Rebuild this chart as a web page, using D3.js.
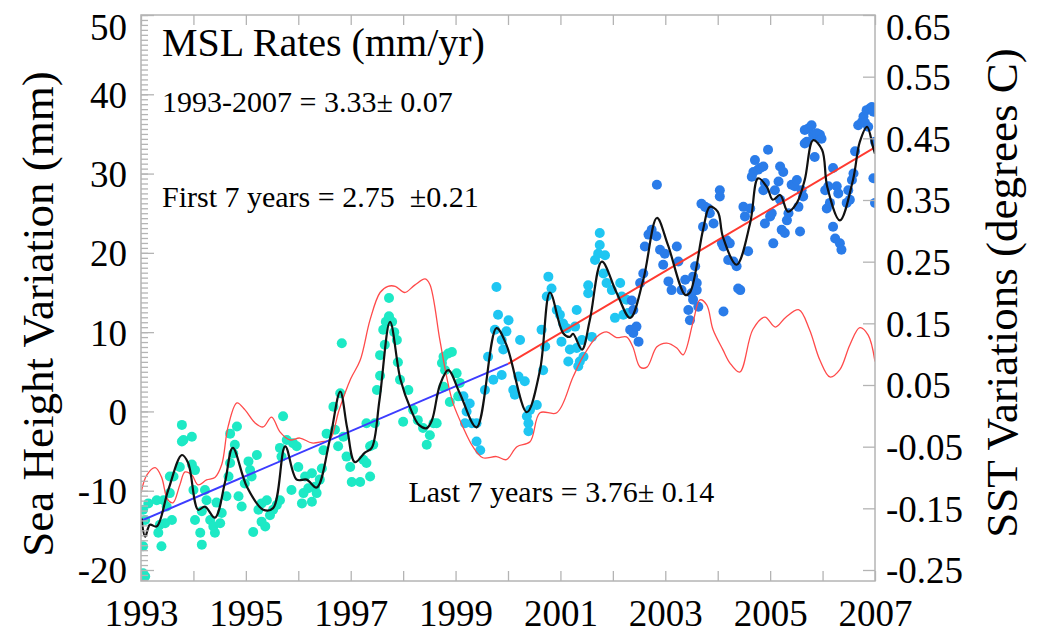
<!DOCTYPE html>
<html lang="en">
<head>
<meta charset="utf-8">
<title>MSL Rates</title>
<script src="https://d3js.org/d3.v7.min.js"></script>
<style>
  body { margin: 0; background: #fff; }
  svg text { font-family: "Liberation Serif", "Times New Roman", serif; fill: #000; white-space: pre; }
  .axis path { display: none; }
  .axis line { stroke: #b4b4b4; stroke-width: 1.3; }
  .axis text { font-size: 37px; }
</style>
</head>
<body>
<script>
// ---- data ----
var yearTicks = d3.range(1993, 2008);                 // one tick per year
var yearLabels = [1993, 1995, 1997, 1999, 2001, 2003, 2005, 2007];
var mmTicks = [-20, -10, 0, 10, 20, 30, 40, 50];
var sstTicks = [-0.25, -0.15, -0.05, 0.05, 0.15, 0.25, 0.35, 0.45, 0.55, 0.65];

// sea level points [year, mm] - first mission phase (green)
var ptsEarly = [
  [1993.04,-20.4],[1993.08,-20.8],[1993.04,-17.0],[1993.04,-12.4],[1993.14,-11.6],[1993.08,-13.7],
  [1993.30,-11.2],[1993.33,-15.3],[1993.39,-17.0],[1993.36,-14.3],[1993.46,-14.1],[1993.49,-12.0],
  [1993.43,-11.2],[1993.55,-10.3],[1993.59,-13.7],[1993.55,-8.2],[1993.62,-8.2],[1993.74,-7.0],
  [1993.78,-3.8],[1993.81,-3.6],[1993.78,-1.7],[1993.97,-3.2],[1993.97,-6.7],[1994.03,-7.4],
  [1994.00,-9.9],[1994.03,-13.7],[1994.13,-15.3],[1994.16,-16.8],[1994.16,-12.6],[1994.22,-9.9],
  [1994.25,-11.2],[1994.32,-13.7],[1994.38,-14.5],[1994.41,-15.3],[1994.44,-11.5],[1994.51,-14.1],
  [1994.54,-12.8],[1994.63,-10.7],[1994.67,-8.2],[1994.70,-6.5],[1994.70,-2.8],[1994.83,-1.9],
  [1994.79,-4.2],[1994.76,-5.3],[1994.86,-10.7],[1994.92,-12.0],[1994.98,-9.1],[1995.05,-6.3],
  [1995.08,-7.4],[1995.11,-8.2],[1995.14,-15.2],[1995.21,-5.5],[1995.24,-12.4],[1995.30,-11.6],
  [1995.30,-13.9],[1995.37,-14.5],[1995.40,-11.2],[1995.46,-13.1],[1995.52,-12.4],[1995.59,-11.8],
  [1995.65,-11.2],[1995.65,-4.6],[1995.68,-5.7],[1995.71,-0.6],[1995.78,-3.6],[1995.87,-9.9],
  [1995.90,-4.0],[1995.97,-4.4],[1996.00,-7.0],[1996.07,-11.6],[1996.10,-10.3],[1996.13,-8.2],
  [1996.19,-9.7],[1996.26,-7.8],[1996.26,-11.4],[1996.32,-9.5],[1996.35,-10.3],[1996.41,-8.6],
  [1996.45,-7.2],[1996.48,-4.9],[1996.54,-2.8],[1996.67,0.6],[1996.80,2.3],[1996.83,8.6],
  [1996.70,-2.3],[1996.76,-4.4],[1996.86,-3.2],[1996.92,-5.7],[1996.99,-7.0],[1997.02,-8.9],
  [1997.18,-8.9],[1997.37,-8.2],[1997.24,-6.1],[1997.30,-6.5],[1997.37,-4.4],[1997.43,-4.2],
  [1997.46,-1.5],[1997.30,-1.5],[1997.50,2.7],[1997.56,4.5],[1997.62,10.3],[1997.67,11.3],
  [1997.73,14.3],[1997.73,12.0],[1997.79,11.3],[1997.83,10.0],[1997.65,8.4],[1997.56,7.1],
  [1997.88,9.0],[1997.90,6.2],[1997.94,4.0],[1998.00,-1.3],[1998.10,2.7],[1998.19,0.2],
  [1998.28,-1.1],[1998.38,-2.1],[1998.45,-4.2],[1998.51,-3.0],[1998.58,-1.5],[1998.64,-1.5],
  [1998.74,6.1],[1998.77,3.1],[1998.80,5.2],[1998.86,7.3],[1998.77,6.9],[1998.89,1.2],
  [1998.93,7.5],[1999.02,4.8],[1999.05,1.9],[1999.08,3.6]
];
// second phase (cyan)
var ptsMid = [
  [1999.15,1.9],[1999.21,0.0],[1999.27,1.0],[1999.31,-1.5],[1999.40,-1.5],[1999.18,-1.5],
  [1999.40,-3.8],[1999.47,-4.9],[1999.56,2.7],[1999.62,6.9],[1999.72,4.0],[1999.75,10.3],
  [1999.78,15.7],[1999.81,12.2],[1999.88,9.0],[1999.91,7.8],[1999.97,10.1],[2000.01,11.5],
  [1999.88,4.6],[2000.10,2.7],[2000.13,2.1],[2000.20,4.4],[2000.23,9.0],[2000.32,3.8],
  [2000.36,-0.6],[2000.39,-1.5],[2000.39,-2.5],[2000.42,0.2],[2000.55,0.8],[2000.64,10.3],
  [2000.71,8.2],[2000.67,5.2],[2000.74,14.5],[2000.77,17.0],[2000.83,15.5],[2000.93,12.8],
  [2000.99,12.2],[2001.05,11.1],[2001.02,8.8],[2001.12,10.5],[2001.18,7.8],[2001.15,6.3],
  [2001.28,10.7],[2001.31,12.8],[2001.31,8.0],[2001.41,9.0],[2001.37,6.3],[2001.34,5.7],
  [2001.44,6.9],[2001.53,14.9],[2001.53,15.9],[2001.60,9.4],[2001.66,19.1],[2001.72,19.9],
  [2001.75,21.0],[2001.75,22.5],[2001.85,19.7],[2001.82,17.4],[2001.88,16.2],[2001.98,15.3],
  [2002.04,11.8],[2002.14,16.2],[2002.17,14.5],[2002.26,14.1],[2002.20,12.2],[2002.29,12.4]
];
// third phase (blue)
var ptsLate = [
  [2002.39,12.8],[2002.36,14.0],[2002.33,10.3],[2002.39,9.9],[2002.45,10.7],[2002.49,8.8],
  [2002.52,16.2],[2002.58,17.4],[2002.61,20.8],[2002.68,22.3],[2002.74,22.9],[2002.83,22.1],
  [2002.84,28.6],[2002.90,20.4],[2002.99,19.9],[2002.96,18.5],[2003.06,16.4],[2003.12,15.3],
  [2003.22,20.8],[2003.25,18.9],[2003.31,15.3],[2003.38,16.6],[2003.44,12.8],[2003.47,11.5],
  [2003.53,14.1],[2003.60,15.3],[2003.50,14.9],[2003.53,17.0],[2003.57,18.3],[2003.60,16.2],
  [2003.63,13.2],[2003.72,23.3],[2003.76,25.8],[2003.69,26.2],[2003.82,25.6],[2003.85,25.0],
  [2003.92,23.7],[2004.04,27.9],[2004.04,27.1],[2004.08,21.2],[2004.11,20.8],[2004.17,21.6],
  [2004.23,21.2],[2004.20,19.1],[2004.30,18.9],[2004.36,18.3],[2004.43,15.3],[2004.39,15.5],
  [2004.11,12.6],[2004.49,25.8],[2004.52,24.6],[2004.58,20.2],[2004.62,25.6],[2004.65,29.6],
  [2004.68,30.2],[2004.71,31.7],[2004.77,30.5],[2004.81,30.7],[2004.87,30.9],[2004.87,27.9],
  [2004.90,28.8],[2004.96,33.0],[2005.00,24.6],[2005.03,25.0],[2004.90,23.7],[2005.06,21.2],
  [2005.09,27.9],[2005.16,29.0],[2005.19,30.9],[2005.25,30.2],[2005.19,26.7],[2005.22,22.9],
  [2005.28,22.5],[2005.32,24.1],[2005.35,25.0],[2005.41,28.6],[2005.47,28.4],[2005.51,29.2],
  [2005.54,25.8],[2005.57,22.7],[2005.60,27.9],[2005.63,27.1],[2005.66,35.5],[2005.70,34.0],
  [2005.73,35.7],[2005.79,36.1],[2005.82,34.9],[2005.85,34.7],[2005.89,35.1],[2005.95,34.9],
  [2005.98,34.4],[2005.85,32.1],[2005.66,33.8],[2006.05,27.9],[2006.08,25.6],[2006.11,28.4],
  [2006.14,26.3],[2006.20,30.7],[2006.27,28.4],[2006.30,27.5],[2006.20,23.3],[2006.24,21.8],
  [2006.33,21.2],[2006.36,20.4],[2006.46,26.3],[2006.49,27.9],[2006.52,26.7],[2006.56,29.2],
  [2006.59,30.0],[2006.62,32.8],[2006.68,36.1],[2006.75,36.5],[2006.78,37.2],[2006.84,38.0],
  [2006.90,38.2],[2006.94,38.4],[2006.97,37.8],[2007.00,34.0],[2006.97,29.4],[2007.00,26.3],
  [2006.81,36.4],[2006.87,35.9]
];

// smoothed sea level [year, mm]
var smoothMsl = [
  [1993.01,-13.5],[1993.08,-15.8],[1993.17,-14.3],[1993.30,-14.5],[1993.52,-9.9],[1993.78,-5.5],
  [1993.90,-6.5],[1994.09,-12.4],[1994.22,-12.0],[1994.41,-13.4],[1994.60,-9.0],[1994.75,-4.6],
  [1995.02,-9.5],[1995.33,-12.4],[1995.52,-12.2],[1995.75,-4.4],[1995.97,-8.6],[1996.16,-8.6],
  [1996.35,-9.6],[1996.60,-3.6],[1996.80,2.5],[1996.93,-2.0],[1997.08,-6.4],[1997.27,-5.2],
  [1997.40,-4.6],[1997.55,1.5],[1997.75,11.3],[1997.95,4.0],[1998.15,0.2],[1998.30,-1.7],
  [1998.45,-2.1],[1998.55,-1.1],[1998.70,3.3],[1998.86,5.2],[1999.08,2.3],[1999.40,-2.0],
  [1999.78,10.5],[1999.97,8.4],[2000.36,-0.1],[2000.61,5.2],[2000.80,15.0],[2001.05,9.9],
  [2001.18,9.4],[2001.24,9.8],[2001.41,7.8],[2001.56,11.5],[2001.79,18.9],[2002.07,15.0],
  [2002.33,11.8],[2002.58,16.6],[2002.84,24.4],[2003.05,21.0],[2003.38,14.7],[2003.47,15.0],
  [2003.72,22.9],[2003.85,25.8],[2004.00,25.2],[2004.10,22.0],[2004.36,18.5],[2004.62,23.8],
  [2004.77,29.4],[2004.94,28.3],[2005.05,26.7],[2005.19,27.3],[2005.34,25.2],[2005.51,26.3],
  [2005.66,29.2],[2005.82,34.2],[2005.99,33.0],[2006.09,28.3],[2006.33,24.1],[2006.58,29.2],
  [2006.71,34.0],[2006.85,35.9],[2006.96,33.4],[2007.00,32.5]
];

// sea surface temperature [year, deg C] (right axis)
var sstSeries = [
  [1993.00,-0.125],[1993.11,-0.096],[1993.27,-0.084],[1993.39,-0.099],[1993.51,-0.136],[1993.61,-0.141],
  [1993.74,-0.112],[1993.84,-0.091],[1993.97,-0.096],[1994.09,-0.112],[1994.25,-0.104],[1994.41,-0.100],
  [1994.54,-0.079],[1994.66,-0.018],[1994.83,0.021],[1994.98,0.010],[1995.17,-0.011],[1995.33,-0.018],
  [1995.49,-0.002],[1995.65,-0.026],[1995.84,-0.039],[1996.03,-0.036],[1996.26,-0.044],[1996.45,-0.042],
  [1996.60,-0.039],[1996.78,0.010],[1997.00,0.060],[1997.18,0.090],[1997.37,0.156],[1997.56,0.200],
  [1997.71,0.210],[1997.85,0.210],[1998.03,0.200],[1998.22,0.212],[1998.42,0.222],[1998.51,0.213],
  [1998.70,0.123],[1998.83,0.063],[1998.95,0.021],[1999.14,-0.018],[1999.33,-0.050],[1999.52,-0.068],
  [1999.78,-0.066],[1999.97,-0.071],[2000.17,-0.050],[2000.42,-0.042],[2000.61,0.005],[2000.93,0.005],
  [2001.24,0.063],[2001.43,0.096],[2001.69,0.128],[2001.88,0.136],[2002.07,0.127],[2002.26,0.128],
  [2002.38,0.112],[2002.52,0.079],[2002.65,0.079],[2002.84,0.112],[2003.03,0.118],[2003.22,0.110],
  [2003.34,0.099],[2003.53,0.152],[2003.66,0.188],[2003.79,0.180],[2003.91,0.140],[2004.10,0.107],
  [2004.23,0.086],[2004.42,0.071],[2004.67,0.140],[2004.90,0.160],[2005.10,0.144],[2005.30,0.160],
  [2005.55,0.172],[2005.75,0.140],[2005.95,0.090],[2006.14,0.063],[2006.33,0.075],[2006.52,0.115],
  [2006.71,0.143],[2006.87,0.131],[2007.00,0.088]
];

// linear fits [year, mm]
var fitFirst = [[1993.0, -13.8], [2000.0, 6.0]];
var fitLast = [[2000.0, 6.0], [2007.0, 33.3]];

var notes = [
  {text: "MSL Rates (mm/yr)", x: 1993.4, y: 44.8, size: 40},
  {text: "1993-2007 = 3.33\u00b1 0.07", x: 1993.4, y: 37.8, size: 30},
  {text: "First 7 years = 2.75  \u00b10.21", x: 1993.4, y: 25.8, size: 30},
  {text: "Last 7 years = 3.76\u00b1 0.14", x: 1998.1, y: -11.4, size: 30}
];

// ---- layout ----
var W = 1040, H = 635;
var padL = 141, padR = 875, padT = 15, padB = 581;

var x = d3.scaleLinear().domain([1993, 2007]).range([padL, padR]);
var yL = d3.scaleLinear().domain([-20, 50]).range([570, padT]);
var yR = d3.scaleLinear().domain([-0.25, 0.65]).range([570, padT]);

// plain hyphen for negatives, like the original
function hy(f) { return function(d) { return f(d).replace("\u2212", "-"); }; }

var svg = d3.select("body").append("svg")
  .attr("width", W)
  .attr("height", H);

svg.append("clipPath").attr("id", "plotclip")
  .append("rect")
  .attr("x", padL).attr("y", padT)
  .attr("width", padR - padL).attr("height", padB - padT);

var plot = svg.append("g").attr("clip-path", "url(#plotclip)");

// dots
var groups = [
  {pts: ptsEarly, color: "#1de9c5"},
  {pts: ptsMid, color: "#1fc6f2"},
  {pts: ptsLate, color: "#2a7ce9"}
];
groups.forEach(function(g) {
  plot.append("g")
    .selectAll("circle")
    .data(g.pts)
    .enter()
    .append("circle")
    .attr("cx", function(d) { return x(d[0]); })
    .attr("cy", function(d) { return yL(d[1]); })
    .attr("r", 5)
    .style("fill", g.color);
});

// SST line
plot.append("path")
  .datum(sstSeries)
  .attr("d", d3.line()
    .x(function(d) { return x(d[0]); })
    .y(function(d) { return yR(d[1]); })
    .curve(d3.curveCatmullRom))
  .style("fill", "none")
  .style("stroke", "#ff4a4a")
  .style("stroke-width", 1.3);

// trend lines
var fitLine = d3.line()
  .x(function(d) { return x(d[0]); })
  .y(function(d) { return yL(d[1]); });
plot.append("path").datum(fitFirst).attr("d", fitLine)
  .style("fill", "none").style("stroke", "#3c3cff").style("stroke-width", 2);
plot.append("path").datum(fitLast).attr("d", fitLine)
  .style("fill", "none").style("stroke", "#ff3a30").style("stroke-width", 2);

// smoothed curve
plot.append("path")
  .datum(smoothMsl)
  .attr("d", d3.line()
    .x(function(d) { return x(d[0]); })
    .y(function(d) { return yL(d[1]); })
    .curve(d3.curveCatmullRom))
  .style("fill", "none")
  .style("stroke", "#111")
  .style("stroke-width", 2.2);

// frame
svg.append("rect")
  .attr("x", padL).attr("y", padT)
  .attr("width", padR - padL).attr("height", padB - padT)
  .style("fill", "none")
  .style("stroke", "#b4b4b4")
  .style("stroke-width", 1.5);

// bottom axis
svg.append("g")
  .attr("class", "axis")
  .attr("transform", "translate(0," + padB + ")")
  .call(d3.axisBottom(x)
    .tickValues(yearTicks)
    .tickSize(-10)
    .tickFormat(function(d) { return yearLabels.indexOf(d) >= 0 ? d : ""; }))
  .selectAll("text")
  .attr("y", 45)
  .attr("dy", 0);

// top axis (ticks only)
svg.append("g")
  .attr("class", "axis")
  .attr("transform", "translate(0," + padT + ")")
  .call(d3.axisTop(x).tickValues(yearTicks).tickSize(-10).tickFormat(""));

// left minor ticks
svg.append("g")
  .attr("class", "axis")
  .attr("transform", "translate(" + padL + ",0)")
  .call(d3.axisLeft(yL)
    .tickValues(d3.range(50, -21.4, -0.625))
    .tickSize(-7)
    .tickFormat(""));

// left axis
svg.append("g")
  .attr("class", "axis")
  .attr("transform", "translate(" + padL + ",0)")
  .call(d3.axisLeft(yL)
    .tickValues(mmTicks)
    .tickSize(-13)
    .tickPadding(14)
    .tickFormat(hy(d3.format("d"))))
  .selectAll("text")
  .attr("dy", function(d) { return d === 50 ? "0.65em" : "0.35em"; });

// right axis
svg.append("g")
  .attr("class", "axis")
  .attr("transform", "translate(" + padR + ",0)")
  .call(d3.axisRight(yR)
    .tickValues(sstTicks)
    .tickSize(-12)
    .tickPadding(11)
    .tickFormat(hy(d3.format(".2f"))))
  .selectAll("text")
  .attr("dy", function(d) { return d === 0.65 ? "0.65em" : "0.35em"; });

// axis titles
svg.append("text")
  .attr("transform", "translate(53,314) rotate(-90)")
  .attr("text-anchor", "middle")
  .style("font-size", "45px")
  .text("Sea Height Variation (mm)");

svg.append("text")
  .attr("transform", "translate(1017,293) rotate(-90)")
  .attr("text-anchor", "middle")
  .style("font-size", "45px")
  .text("SST Variations (degrees C)");

// annotations
svg.selectAll(".note")
  .data(notes)
  .enter()
  .append("text")
  .attr("class", "note")
  .attr("x", function(d) { return x(d.x); })
  .attr("y", function(d) { return yL(d.y); })
  .style("font-size", function(d) { return d.size + "px"; })
  .text(function(d) { return d.text; });
</script>
</body>
</html>
